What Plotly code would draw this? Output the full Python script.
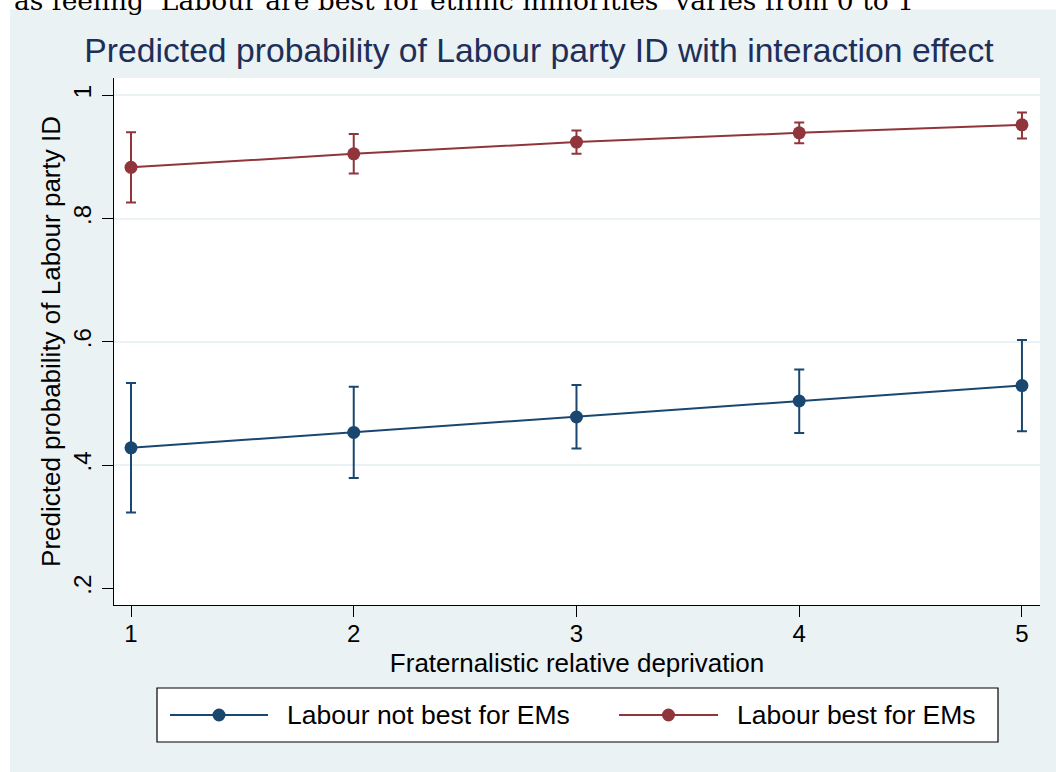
import plotly.graph_objects as go

# ---------------- data ----------------
x_vals = [1, 2, 3, 4, 5]

not_best_y = [0.428, 0.453, 0.478, 0.504, 0.529]
not_best_lo = [0.323, 0.379, 0.427, 0.452, 0.455]
not_best_hi = [0.533, 0.527, 0.530, 0.555, 0.603]

best_y = [0.883, 0.905, 0.924, 0.939, 0.952]
best_lo = [0.826, 0.873, 0.905, 0.922, 0.930]
best_hi = [0.940, 0.937, 0.943, 0.956, 0.972]

y_ticks = [0.2, 0.4, 0.6, 0.8, 1.0]
y_ticktext = [".2", ".4", ".6", ".8", "1"]
grid_vals = [0.4, 0.6, 0.8, 1.0]

series_names = ["Labour not best for EMs", "Labour best for EMs"]
title_text = "Predicted probability of Labour party ID with interaction effect"
x_title = "Fraternalistic relative deprivation"
y_title = "Predicted probability of Labour party ID"
header_text = "as feeling \u2018Labour are best for ethnic minorities\u2019 varies from 0 to 1"

# ---------------- style ----------------
W, H = 1056, 772
L, R, T, B = 114, 16, 78, 167
PW, PH = W - L - R, H - T - B
NAVY = "#1A476F"
MAROON = "#90353B"
BG = "#EAF2F3"
FONT = "Liberation Sans, Arial, sans-serif"


def px_x(px):
    return (px - L) / PW


def px_y(py):
    return (T + PH - py) / PH


fig = go.Figure()

for name, ys, lo, hi, col in [
    (series_names[0], not_best_y, not_best_lo, not_best_hi, NAVY),
    (series_names[1], best_y, best_lo, best_hi, MAROON),
]:
    fig.add_trace(go.Scatter(
        x=x_vals, y=ys, mode="lines+markers", name=name,
        line=dict(color=col, width=2),
        marker=dict(color=col, size=13),
        error_y=dict(type="data", symmetric=False,
                     array=[h - v for h, v in zip(hi, ys)],
                     arrayminus=[v - l for v, l in zip(ys, lo)],
                     color=col, thickness=2, width=5),
        showlegend=False,
    ))

shapes = []
annotations = []

# white document strips (top and left) outside the graph region
shapes.append(dict(type="rect", xref="paper", yref="paper", layer="below",
                   x0=px_x(-5), x1=px_x(W + 5), y0=px_y(9.5), y1=px_y(-5),
                   fillcolor="white", line=dict(width=0)))
shapes.append(dict(type="rect", xref="paper", yref="paper", layer="below",
                   x0=px_x(-5), x1=px_x(10), y0=px_y(H + 5), y1=px_y(-5),
                   fillcolor="white", line=dict(width=0)))

# header text (cut off at top)
annotations.append(dict(text=header_text, xref="paper", yref="paper",
                        x=px_x(12), y=px_y(18), xanchor="left", yanchor="bottom",
                        showarrow=False,
                        font=dict(family="DejaVu Serif", size=26.5, color="black")))

# legend box
lb_x0, lb_x1, lb_y0, lb_y1 = 157, 998, 688, 742
shapes.append(dict(type="rect", xref="paper", yref="paper",
                   x0=px_x(lb_x0), x1=px_x(lb_x1), y0=px_y(lb_y1), y1=px_y(lb_y0),
                   fillcolor="white", line=dict(color="black", width=1.2)))
ly = (lb_y0 + lb_y1) / 2
for (sx0, sx1, tx), name, col in zip([(170, 268, 285), (619, 718, 735)], series_names, [NAVY, MAROON]):
    shapes.append(dict(type="line", xref="paper", yref="paper",
                       x0=px_x(sx0), x1=px_x(sx1), y0=px_y(ly), y1=px_y(ly),
                       line=dict(color=col, width=2)))
    shapes.append(dict(type="circle", xref="paper", yref="paper",
                       xsizemode="pixel", ysizemode="pixel",
                       xanchor=px_x((sx0 + sx1) / 2), yanchor=px_y(ly),
                       x0=-6.5, x1=6.5, y0=-6.5, y1=6.5,
                       fillcolor=col, line=dict(color=col, width=0)))
    annotations.append(dict(text=name, xref="paper", yref="paper",
                            x=px_x(tx), y=px_y(ly), xanchor="left", yanchor="middle",
                            showarrow=False,
                            font=dict(family=FONT, size=26.5, color="black")))

fig.update_layout(
    width=W, height=H,
    margin=dict(l=L, r=R, t=T, b=B, pad=0),
    paper_bgcolor=BG, plot_bgcolor="white",
    font=dict(family=FONT, color="black"),
    title=dict(text=title_text, x=px_x(539), xref="paper", xanchor="center",
               y=1 - 50 / H, yref="container", yanchor="middle",
               font=dict(family=FONT, size=33.7, color="#1E2F5A")),
    xaxis=dict(range=[0.9237, 5.081], tickvals=x_vals, ticktext=[str(v) for v in x_vals],
               showgrid=False, zeroline=False,
               showline=True, linecolor="black", linewidth=1.2,
               ticks="outside", ticklen=11, tickwidth=1.2, tickcolor="black",
               tickfont=dict(size=24), ticklabelstandoff=-4,
               title=dict(text=x_title, font=dict(size=26), standoff=7)),
    yaxis=dict(range=[0.173, 1.028], tickvals=y_ticks, ticktext=y_ticktext,
               tickangle=-90, showgrid=False, zeroline=False,
               showline=True, linecolor="black", linewidth=1.2,
               ticks="outside", ticklen=11, tickwidth=1.2, tickcolor="black",
               tickfont=dict(size=24), ticklabelstandoff=1,
               minor=dict(tickvals=grid_vals, showgrid=True, gridcolor=BG,
                          gridwidth=2, ticks=""),
               title=dict(text=y_title, font=dict(size=26), standoff=1)),
    shapes=shapes,
    annotations=annotations,
)

fig.write_html("out.html")
